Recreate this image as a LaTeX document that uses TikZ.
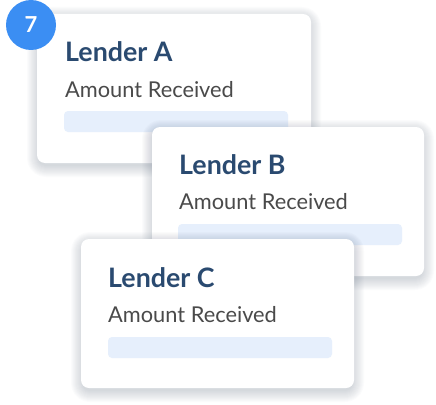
\documentclass[tikz,border=0pt]{standalone}
\usepackage{fontspec}
\setmainfont{Lato}
\definecolor{titleblue}{HTML}{2A4A70}
\definecolor{bodygrey}{HTML}{4A4A4A}
\definecolor{barblue}{HTML}{E6EFFC}
\definecolor{badgeblue}{HTML}{3B8EF3}
\definecolor{shadowgrey}{HTML}{3A4A60}
\newcommand\mycardshadow[4]{%
  \foreach \i in {0,...,11}{%
    \pgfmathsetmacro\e{\i*1.0}%
    \pgfmathsetmacro\r{8+\e}%
    \fill[shadowgrey, opacity=0.018, rounded corners=\r pt]
      ({#1-\e+1},{#2+4-\e}) rectangle ({#3+\e-1},{#4+3+\e});
  }%
}
\tikzset{
  card/.style={fill=white, rounded corners=8pt},
  bar/.style={fill=barblue, rounded corners=4pt},
  title/.style={anchor=base west, inner sep=0pt, text=titleblue, font=\fontsize{26.8}{30}\selectfont\bfseries},
  body/.style={anchor=base west, inner sep=0pt, text=bodygrey, font=\fontsize{21.8}{25}\selectfont},
  badge/.style={circle, fill=badgeblue, minimum size=50pt, inner sep=0pt, text=white, font=\fontsize{22}{24}\selectfont\bfseries}
}
\begin{document}
\begin{tikzpicture}[x=1pt,y=-1pt]
\useasboundingbox (0,0) rectangle (436,404);
% Card A
\mycardshadow{37}{14}{311}{163}
\path[card] (37,14) rectangle (311,163);
\node[title] (ta) at (65,62) {Lender A};
\node[body] (ba) at (65,97) {Amount Received};
\path[bar] (64,111) rectangle (288,132);
% Badge
\node[badge] (badge) at (31,25) {7};
% Card B
\mycardshadow{152}{127}{424}{276}
\path[card] (152,127) rectangle (424,276);
\node[title] (tb) at (179,174) {Lender B};
\node[body] (bb) at (179,209) {Amount Received};
\path[bar] (178,224) rectangle (402,245);
% Card C
\mycardshadow{81}{239}{354}{388}
\path[card] (81,239) rectangle (354,388);
\node[title] (tc) at (108,287) {Lender C};
\node[body] (bc) at (108,322) {Amount Received};
\path[bar] (108,337) rectangle (332,358);
\end{tikzpicture}
\end{document}
